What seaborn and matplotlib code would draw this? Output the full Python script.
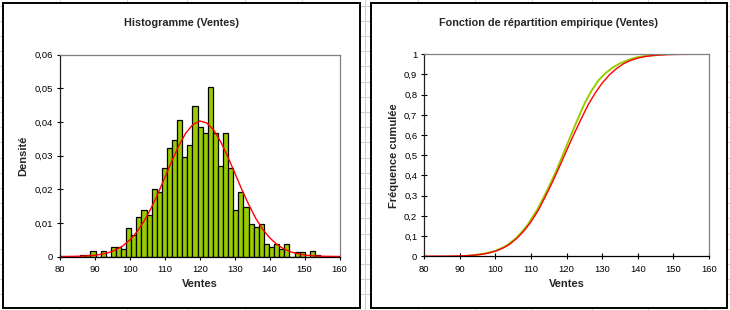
import numpy as np
import pandas as pd
import matplotlib
matplotlib.use("Agg")
import matplotlib.pyplot as plt
from matplotlib.ticker import FuncFormatter, MultipleLocator
from matplotlib.patches import Rectangle
from matplotlib.lines import Line2D
import seaborn as sns

# ---------------- data ----------------
bin_start = 85.8
bin_width = 1.46
bar_density = [0.0003, 0.0003, 0.0015, 0.0, 0.0015, 0.0, 0.0028, 0.0027, 0.0022,
               0.0084, 0.0063, 0.0117, 0.0137, 0.0124, 0.0200, 0.0193, 0.0262,
               0.0322, 0.0345, 0.0405, 0.0295, 0.0331, 0.0447, 0.0384, 0.0366,
               0.0504, 0.0367, 0.0269, 0.0367, 0.0262, 0.0138, 0.0193, 0.0146,
               0.0097, 0.0089, 0.0098, 0.0037, 0.0027, 0.0036, 0.0022, 0.0036,
               0.0, 0.0012, 0.0012, 0.0, 0.0015, 0.0003]

curve_x = [80, 82, 84, 86, 88, 90, 92, 94, 96, 98, 100, 102, 104, 106, 108, 110,
           112, 114, 116, 118, 120, 122, 124, 126, 128, 130, 132, 134, 136, 138,
           140, 142, 144, 146, 148, 150, 152, 154, 156, 158, 160]
normal_density = [0.00001, 0.00002, 0.00005, 0.0001, 0.0002, 0.00037, 0.00067,
                  0.00118, 0.00199, 0.00318, 0.00493, 0.0073, 0.0104, 0.0142,
                  0.0186, 0.0235, 0.0284, 0.0329, 0.0367, 0.0392, 0.0403, 0.0397,
                  0.0376, 0.0341, 0.0297, 0.0249, 0.0200, 0.0155, 0.0114, 0.0081,
                  0.0056, 0.00365, 0.0023, 0.00139, 0.00081, 0.00045, 0.00024,
                  0.00012, 0.00006, 0.00003, 0.00001]
normal_cdf = [0.00003, 0.00008, 0.00018, 0.00038, 0.00076, 0.0015, 0.0028, 0.0051,
              0.0091, 0.0154, 0.025, 0.0392, 0.0594, 0.0885, 0.125, 0.171,
              0.2266, 0.2946, 0.367, 0.4443, 0.524, 0.6026, 0.6772, 0.7486, 0.8078,
              0.8577, 0.898, 0.9292, 0.9535, 0.970, 0.9812, 0.9887, 0.9934,
              0.9964, 0.9981, 0.999, 0.9995, 0.99976, 0.99989, 0.99995, 1.0]

ecdf_x = [91.5, 94, 97, 100, 103, 106, 109, 112, 115, 117, 119, 121, 123, 125,
          127, 129, 131, 133, 135, 137, 139, 141, 143, 145, 148]
ecdf_y = [0.0, 0.006, 0.013, 0.026, 0.051, 0.092, 0.154, 0.238, 0.343, 0.42,
          0.505, 0.59, 0.675, 0.755, 0.82, 0.872, 0.908, 0.935, 0.955, 0.97,
          0.982, 0.989, 0.993, 0.996, 1.0]

hist_title = "Histogramme (Ventes)"
cdf_title = "Fonction de répartition empirique (Ventes)"
x_label = "Ventes"
hist_ylabel = "Densité"
cdf_ylabel = "Fréquence cumulée"

# ---------------- style ----------------
sns.set_theme(style="white")
plt.rcParams['font.family'] = ['Liberation Sans', 'DejaVu Sans']

W, H = 730, 310
fig = plt.figure(figsize=(W / 100, H / 100), dpi=100)
fig.patch.set_facecolor("white")

def fx(px):
    return px / W

def fy(py):
    return 1 - py / H

# spreadsheet gridlines in the background
grid_col = "#c8c8c8"
for ypx in np.arange(5.5, H, 15.2):
    fig.add_artist(Line2D([0, 1], [fy(ypx), fy(ypx)], color=grid_col, lw=0.6,
                          transform=fig.transFigure, zorder=0))
for xpx in [60, 127, 187, 245, 302, 365, 418, 475, 532, 592, 648, 705]:
    fig.add_artist(Line2D([fx(xpx), fx(xpx)], [0, 1], color=grid_col, lw=0.6,
                          transform=fig.transFigure, zorder=0))

# chart frames
for (x0, y0, x1, y1) in [(2.7, 2.7, 360, 308), (371, 2.7, 726.5, 308)]:
    fig.add_artist(Rectangle((fx(x0), fy(y1)), fx(x1) - fx(x0), fy(y0) - fy(y1),
                             transform=fig.transFigure, facecolor="white",
                             edgecolor="black", lw=1.4, zorder=1))

ax1 = fig.add_axes([fx(60), fy(256.5), fx(339.5) - fx(60), fy(54.7) - fy(256.5)])
ax2 = fig.add_axes([fx(424.3), fy(256.2), fx(709) - fx(424.3), fy(54.3) - fy(256.2)])
for ax in (ax1, ax2):
    ax.set_zorder(2)
    ax.set_facecolor("white")

comma = FuncFormatter(lambda v, p: ("%g" % round(v, 6)).replace(".", ","))
tick_fs = 6.8
lab_fs = 8.0
title_fs = 7.8

# ---------------- histogram ----------------
edges = bin_start + bin_width * np.arange(len(bar_density) + 1)
centers = (edges[:-1] + edges[1:]) / 2
hist_df = pd.DataFrame({"Ventes": centers, "densite": bar_density})
sns.histplot(data=hist_df, x="Ventes", weights="densite", bins=list(edges),
             stat="count", color="#99cc00", edgecolor="black", linewidth=0.9,
             alpha=1.0, ax=ax1)
sns.lineplot(x=curve_x, y=normal_density, color="#ff0000", linewidth=1.0,
             ax=ax1)
ax1.set_xlim(80, 160)
ax1.set_ylim(0, 0.06)
ax1.xaxis.set_major_locator(MultipleLocator(10))
ax1.yaxis.set_major_locator(MultipleLocator(0.01))

# ---------------- ECDF ----------------
sns.lineplot(x=ecdf_x, y=ecdf_y, color="#99cc00", linewidth=1.4, ax=ax2)
sns.lineplot(x=curve_x, y=normal_cdf, color="#ff0000", linewidth=1.0, ax=ax2)
ax2.set_xlim(80, 160)
ax2.set_ylim(0, 1)
ax2.xaxis.set_major_locator(MultipleLocator(10))
ax2.yaxis.set_major_locator(MultipleLocator(0.1))

for ax, ylab, lp in [(ax1, hist_ylabel, 4.5), (ax2, cdf_ylabel, 4)]:
    ax.xaxis.set_major_formatter(comma)
    ax.yaxis.set_major_formatter(comma)
    ax.tick_params(axis="both", which="major", direction="inout", length=4,
                   width=0.8, color="black", labelsize=tick_fs, pad=3,
                   bottom=True, left=True, labelcolor="black")
    ax.tick_params(axis="x", pad=4)
    ax.spines["left"].set_color("#202020")
    ax.spines["bottom"].set_color("black")
    ax.spines["top"].set_color("#808080")
    ax.spines["right"].set_color("#808080")
    for s in ax.spines.values():
        s.set_linewidth(0.9)
        s.set_visible(True)
    ax.set_xlabel(x_label, fontsize=lab_fs, fontweight="bold", labelpad=4)
    ax.set_ylabel(ylab, fontsize=lab_fs, fontweight="bold", labelpad=lp)
    ax.grid(False)

fig.text(fx(181), fy(23), hist_title, ha="center", va="center",
         fontsize=title_fs, fontweight="bold", zorder=3)
fig.text(fx(548.5), fy(23), cdf_title, ha="center", va="center",
         fontsize=title_fs, fontweight="bold", zorder=3)

fig.savefig("out.png", dpi=100, facecolor="white")
